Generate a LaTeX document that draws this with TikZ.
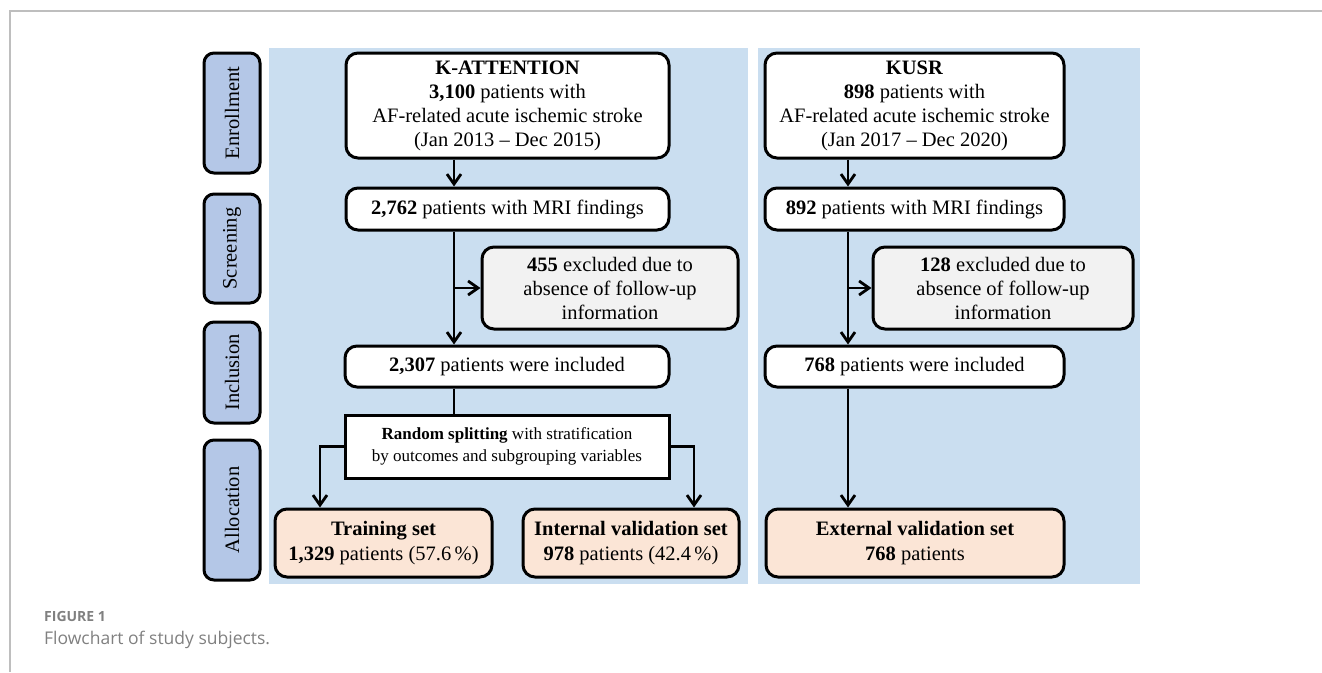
\documentclass[tikz,border=0pt]{standalone}
\usepackage{fontspec}
\setmainfont{Liberation Serif}
\newfontfamily\capfont{Open Sans}
\usetikzlibrary{arrows.meta}
\definecolor{panelblue}{RGB}{202,222,240}
\definecolor{stageblue}{RGB}{180,199,231}
\definecolor{exclgray}{RGB}{242,242,242}
\definecolor{setorange}{RGB}{251,229,214}
\definecolor{framegray}{RGB}{190,190,190}
\definecolor{capgray}{RGB}{128,128,128}
\tikzset{
  box/.style={draw=black, line width=3pt, rounded corners=12pt, fill=white, align=center,
    inner sep=0pt, font=\fontsize{20.5}{24}\selectfont},
  exclbox/.style={box, fill=exclgray},
  setbox/.style={box, fill=setorange, font=\fontsize{20.5}{25}\selectfont},
  randbox/.style={box, rounded corners=0pt, font=\fontsize{17}{22}\selectfont},
  stagebox/.style={draw=black, line width=3pt, rounded corners=10pt, fill=stageblue,
    rotate=90, inner sep=0pt, minimum height=56pt, font=\fontsize{20.5}{24}\selectfont},
  arr/.style={line width=2.8pt, -{Straight Barb[length=10pt,width=14pt,line width=2.8pt]}},
  conn/.style={line width=2.8pt},
}
\begin{document}
\begin{tikzpicture}[x=1pt,y=-1pt]
\useasboundingbox (0,0) rectangle (1322,672);
% frame
\draw[framegray, line width=1.2pt] (10,672) -- (10,11) -- (1322,11);
% panels
\fill[panelblue] (269,48) rectangle (748,584);
\fill[panelblue] (758,48) rectangle (1140,584);
% stage boxes
\node[stagebox, minimum width=120pt] (st1) at (232,113) {Enrollment};
\node[stagebox, minimum width=109pt] (st2) at (232,248.5) {Screening};
\node[stagebox, minimum width=101pt] (st3) at (232,372.5) {Inclusion};
\node[stagebox, minimum width=140pt] (st4) at (232,510) {Allocation};
% left column
\node[box, minimum width=323pt, minimum height=105pt] (ka) at (507.5,105.5)
  {\textbf{K-ATTENTION}\\\textbf{3,100} patients with\\AF-related acute ischemic stroke\\(Jan 2013 -- Dec 2015)};
\node[box, minimum width=323pt, minimum height=42pt] (mri1) at (507.5,209)
  {\textbf{2,762} patients with MRI findings};
\node[exclbox, minimum width=256pt, minimum height=82pt] (exc1) at (610,288)
  {\textbf{455} excluded due to\\absence of follow-up\\information};
\node[box, minimum width=324pt, minimum height=41pt] (inc1) at (507,366.5)
  {\textbf{2,307} patients were included};
\node[randbox, minimum width=324pt, minimum height=63pt] (rand) at (507,446.5)
  {\textbf{Random splitting} with stratification\\by outcomes and subgrouping variables};
\node[setbox, minimum width=217pt, minimum height=68pt] (train) at (383.5,543)
  {\textbf{Training set}\\\textbf{1,329} patients (57.6\,\%)};
\node[setbox, minimum width=216pt, minimum height=68pt] (int) at (631,543)
  {\textbf{Internal validation set}\\\textbf{978} patients (42.4\,\%)};
% right column
\node[box, minimum width=299pt, minimum height=105pt] (ku) at (914.5,105.5)
  {\textbf{KUSR}\\\textbf{898} patients with\\AF-related acute ischemic stroke\\(Jan 2017 -- Dec 2020)};
\node[box, minimum width=299pt, minimum height=42pt] (mri2) at (914.5,209)
  {\textbf{892} patients with MRI findings};
\node[exclbox, minimum width=260pt, minimum height=82pt] (exc2) at (1003,288)
  {\textbf{128} excluded due to\\absence of follow-up\\information};
\node[box, minimum width=299pt, minimum height=41pt] (inc2) at (914.5,366.5)
  {\textbf{768} patients were included};
\node[setbox, minimum width=298pt, minimum height=68pt] (ext) at (915,543)
  {\textbf{External validation set}\\\textbf{768} patients};
% connector x positions
\coordinate (lx) at (454,0);
\coordinate (tl) at (320,0);
\coordinate (tr) at (694,0);
\coordinate (rx) at (848,0);
% left connectors
\draw[arr] (ka.south -| lx) -- (mri1.north -| lx);
\draw[arr] (mri1.south -| lx) -- (inc1.north -| lx);
\draw[arr] (exc1.west -| lx) -- (exc1.west);
\draw[conn] (inc1.south -| lx) -- (rand.north -| lx);
\draw[arr] (rand.west) -| (tl |- train.north);
\draw[arr] (rand.east) -| (tr |- int.north);
% right connectors
\draw[arr] (ku.south -| rx) -- (mri2.north -| rx);
\draw[arr] (mri2.south -| rx) -- (inc2.north -| rx);
\draw[arr] (exc2.west -| rx) -- (exc2.west);
\draw[arr] (inc2.south -| rx) -- (ext.north -| rx);
% caption
\node[anchor=base west, inner sep=0pt, text=capgray, font=\capfont\bfseries\fontsize{14}{16}\selectfont] (cap1) at (44,621) {FIGURE 1};
\node[anchor=base west, inner sep=0pt, text=capgray, font=\capfont\fontsize{17.5}{20}\selectfont] (cap2) at (44,644) {Flowchart of study subjects.};
\end{tikzpicture}
\end{document}
